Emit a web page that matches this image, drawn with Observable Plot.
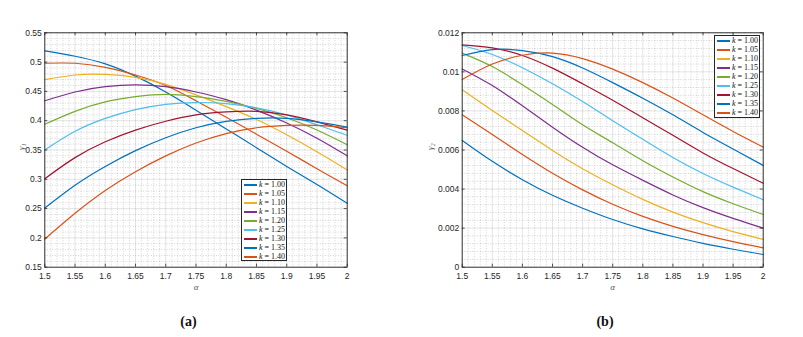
<!DOCTYPE html>
<html><head><meta charset="utf-8">
<script src="https://cdn.jsdelivr.net/npm/d3@7"></script>
<script src="https://cdn.jsdelivr.net/npm/@observablehq/plot@0.6"></script>
<style>
body{margin:0;background:#fff;}
#wrap{position:relative;width:803px;height:337px;overflow:hidden;font-family:"Liberation Sans",Arial,sans-serif;}
.panel{position:absolute;top:0;}
.legend{position:absolute;background:#fff;border:1px solid #262626;box-sizing:border-box;font-family:"Liberation Serif",serif;font-size:8px;color:#111;padding-top:0px;z-index:5;}
.legend .row{display:flex;align-items:center;height:9px;white-space:nowrap;}
.legend .sw{display:block;flex:none;width:13px;height:2px;margin:0 2px 0 2px;}
.cap{position:absolute;font-family:"Liberation Serif",serif;font-weight:bold;font-size:14px;transform:translate(-50%,-50%);color:#111;}
</style></head><body><div id="wrap"></div>
<script>
// ---- data ----
const alpha = [1.5, 1.55, 1.6, 1.65, 1.7, 1.75, 1.8, 1.85, 1.9, 1.95, 2.0];
const kValues = ["1.00","1.05","1.10","1.15","1.20","1.25","1.30","1.35","1.40"];
const colors = ["#0072BD","#D95319","#EDB120","#7E2F8E","#77AC30","#4DBEEE","#A2142F","#0072BD","#D95319"];
const gamma1 = [
  [0.519,0.510,0.497,0.476,0.449,0.418,0.386,0.354,0.322,0.291,0.259],
  [0.498,0.498,0.491,0.478,0.460,0.434,0.406,0.377,0.348,0.318,0.289],
  [0.470,0.478,0.479,0.474,0.462,0.444,0.424,0.402,0.376,0.347,0.316],
  [0.434,0.449,0.458,0.461,0.458,0.449,0.436,0.418,0.396,0.370,0.340],
  [0.394,0.416,0.432,0.441,0.445,0.441,0.433,0.421,0.405,0.384,0.359],
  [0.350,0.382,0.404,0.419,0.428,0.431,0.429,0.422,0.410,0.393,0.375],
  [0.301,0.337,0.364,0.384,0.399,0.410,0.415,0.416,0.410,0.398,0.384],
  [0.251,0.290,0.322,0.349,0.371,0.388,0.399,0.404,0.404,0.398,0.389],
  [0.198,0.242,0.281,0.313,0.340,0.362,0.378,0.388,0.392,0.392,0.388]
];
const gamma2 = [
  [0.00649,0.00542,0.00448,0.00368,0.00302,0.00244,0.00196,0.00157,0.00122,0.00092,0.00065],
  [0.00780,0.00679,0.00577,0.00481,0.00396,0.00322,0.00260,0.00209,0.00167,0.00131,0.00099],
  [0.00908,0.00802,0.00700,0.00598,0.00504,0.00422,0.00347,0.00282,0.00228,0.00182,0.00142],
  [0.01015,0.00930,0.00826,0.00717,0.00614,0.00524,0.00445,0.00370,0.00305,0.00250,0.00200],
  [0.01096,0.01027,0.00934,0.00833,0.00729,0.00637,0.00545,0.00462,0.00387,0.00325,0.00270],
  [0.01135,0.01089,0.01021,0.00939,0.00848,0.00750,0.00655,0.00562,0.00480,0.00410,0.00345],
  [0.01138,0.01123,0.01084,0.01019,0.00939,0.00855,0.00765,0.00675,0.00585,0.00505,0.00430],
  [0.01084,0.01114,0.01109,0.01078,0.01020,0.00945,0.00865,0.00780,0.00690,0.00605,0.00521],
  [0.00961,0.01040,0.01085,0.01096,0.01068,0.01014,0.00945,0.00866,0.00780,0.00695,0.00615]
];
const xTicks = [1.5,1.55,1.6,1.65,1.7,1.75,1.8,1.85,1.9,1.95,2];
const yTicks1 = [0.15,0.2,0.25,0.3,0.35,0.4,0.45,0.5,0.55];
const yTicks2 = [0,0.002,0.004,0.006,0.008,0.01,0.012];
const yLabels = ["γ₁","γ₂"];
const captions = ["(a)","(b)"];

// ---- drawing ----
const wrap = document.getElementById("wrap");
const axisColor = "#262626";

function rows(series) {
  const out = [];
  series.forEach((vals, i) => vals.forEach((v, j) => out.push({k: kValues[i], x: alpha[j], y: v})));
  return out;
}
function minorTicks(lo, hi, step, majors) {
  const out = [];
  const n = Math.round((hi - lo) / step);
  for (let i = 0; i <= n; i++) {
    const v = +(lo + i * step).toFixed(6);
    if (!majors.some(m => Math.abs(m - v) < step / 10)) out.push(v);
  }
  return out;
}
const fmt = d => String(+(+d).toFixed(4));

function panel(cfg) {
  const [x0, x1] = [xTicks[0], xTicks[xTicks.length - 1]];
  const [y0, y1] = [cfg.yTicks[0], cfg.yTicks[cfg.yTicks.length - 1]];
  const pw = cfg.width - cfg.ml - cfg.mr, ph = cfg.height - cfg.mt - cfg.mb;
  const tl = 3; // tick length px
  const dyT = tl / ph * (y1 - y0), dxT = tl / pw * (x1 - x0);
  const xMinor = minorTicks(x0, x1, 0.01, xTicks);
  const yMinor = minorTicks(y0, y1, cfg.yMinorStep, cfg.yTicks);
  const svg = Plot.plot({
    width: cfg.width, height: cfg.height,
    marginLeft: cfg.ml, marginRight: cfg.mr, marginTop: cfg.mt, marginBottom: cfg.mb,
    x: {domain: [x0, x1]},
    y: {domain: [y0, y1]},
    style: {background: "transparent", overflow: "visible", fontFamily: "'Liberation Sans', Arial, sans-serif"},
    marks: [
      Plot.gridX(xMinor, {stroke: "#7a7a7a", strokeOpacity: 0.55, strokeWidth: 0.6, strokeDasharray: "1,1.6"}),
      Plot.gridY(yMinor, {stroke: "#7a7a7a", strokeOpacity: 0.55, strokeWidth: 0.6, strokeDasharray: "1,1.6"}),
      Plot.gridX(xTicks, {stroke: "#262626", strokeOpacity: 0.16, strokeWidth: 0.8}),
      Plot.gridY(cfg.yTicks, {stroke: "#262626", strokeOpacity: 0.16, strokeWidth: 0.8}),
      Plot.line(rows(cfg.series), {x: "x", y: "y", z: "k",
        stroke: d => colors[kValues.indexOf(d.k)], strokeWidth: 1.2, curve: "natural"}),
      Plot.ruleX(xTicks, {y1: y0, y2: y0 + dyT, stroke: axisColor, strokeWidth: 0.8}),
      Plot.ruleX(xTicks, {y1: y1 - dyT, y2: y1, stroke: axisColor, strokeWidth: 0.8}),
      Plot.ruleY(cfg.yTicks, {x1: x0, x2: x0 + dxT, stroke: axisColor, strokeWidth: 0.8}),
      Plot.ruleY(cfg.yTicks, {x1: x1 - dxT, x2: x1, stroke: axisColor, strokeWidth: 0.8}),
      Plot.frame({stroke: axisColor, strokeWidth: 0.9}),
      Plot.axisX(xTicks, {tickSize: 0, tickPadding: 6, tickFormat: fmt, fontSize: 8.5, fill: axisColor, label: null}),
      Plot.axisY(cfg.yTicks, {tickSize: 0, tickPadding: 3, tickFormat: fmt, fontSize: 8.5, fill: axisColor, label: null}),
      Plot.text(["α"], {text: d => d, frameAnchor: "bottom", dy: 23, fontSize: 9, fontStyle: "italic",
        fontFamily: "'Liberation Serif', serif", fill: "#555"}),
      Plot.text([cfg.yLabel], {text: d => d, frameAnchor: "left", dx: -cfg.yLabelDx, rotate: -90, fontSize: 9,
        fontStyle: "italic", fontFamily: "'Liberation Serif', serif", fill: "#555"})
    ]
  });
  const div = document.createElement("div");
  div.className = "panel";
  div.style.left = cfg.left + "px";
  div.appendChild(svg);
  wrap.appendChild(div);

  const lg = document.createElement("div");
  lg.className = "legend";
  Object.assign(lg.style, {left: cfg.legend[0] + "px", top: cfg.legend[1] + "px", width: cfg.legend[2] + "px", height: cfg.legend[3] + "px"});
  kValues.forEach((k, i) => {
    const r = document.createElement("div");
    r.className = "row";
    r.innerHTML = `<span class="sw" style="background-color:${colors[i]}"></span><span><i>k</i> = ${k}</span>`;
    lg.appendChild(r);
  });
  wrap.appendChild(lg);

  const cap = document.createElement("div");
  cap.className = "cap";
  cap.textContent = cfg.caption;
  cap.style.left = cfg.capX + "px";
  cap.style.top = "322px";
  wrap.appendChild(cap);
}

panel({left: 0, width: 400, height: 300, ml: 44.3, mr: 53.3, mt: 32.3, mb: 33.3,
  yTicks: yTicks1, yMinorStep: 0.01, series: gamma1, yLabel: yLabels[0], yLabelDx: 24,
  legend: [241, 179, 46, 82], caption: captions[0], capX: 188.5});
panel({left: 400, width: 403, height: 300, ml: 61.7, mr: 40.3, mt: 32.3, mb: 33.3,
  yTicks: yTicks2, yMinorStep: 0.0004, series: gamma2, yLabel: yLabels[1], yLabelDx: 32,
  legend: [714, 35, 46, 83], caption: captions[1], capX: 605});
</script></body></html>
